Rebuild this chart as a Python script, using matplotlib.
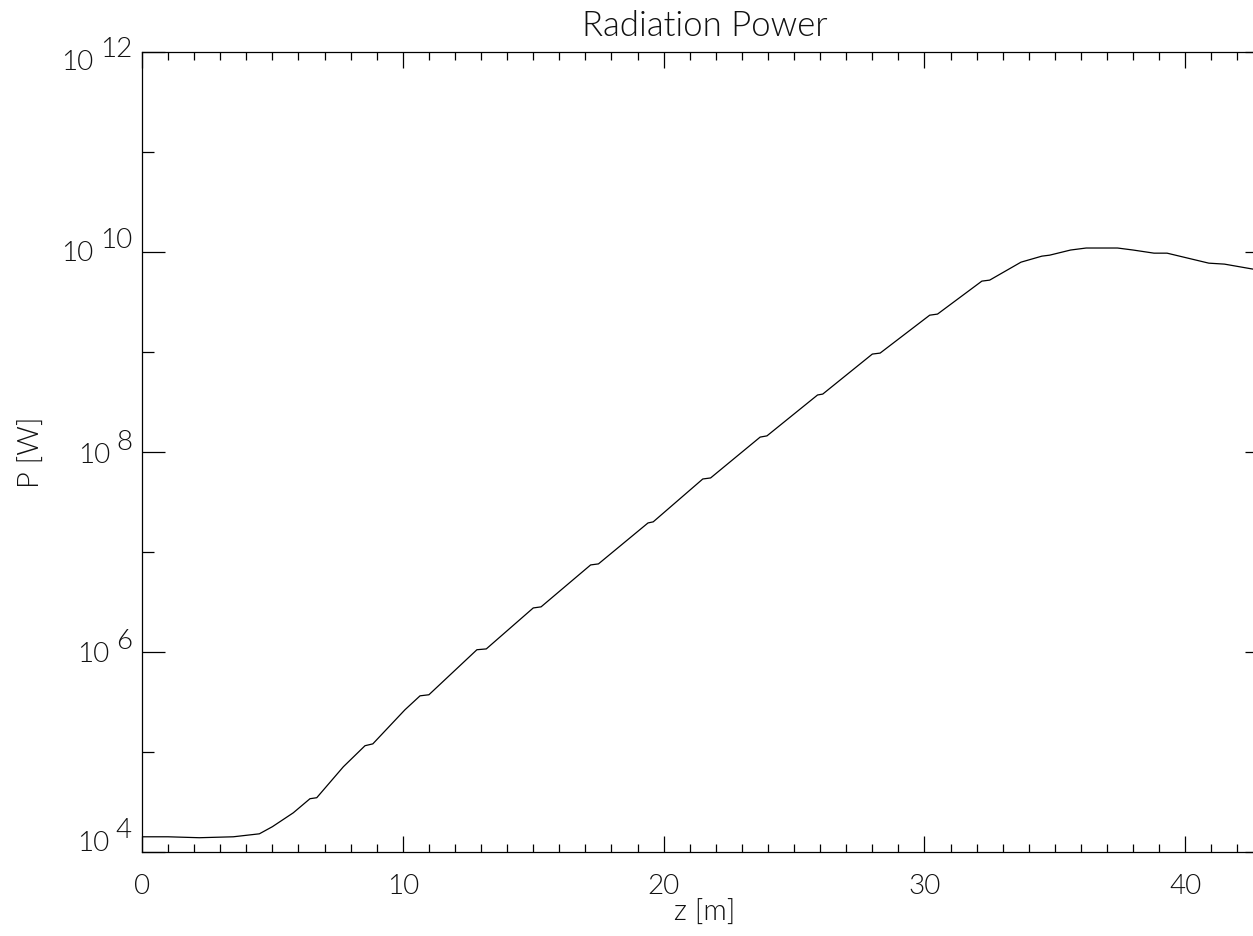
import matplotlib
matplotlib.use("Agg")
import matplotlib.pyplot as plt
from matplotlib.ticker import FixedLocator, MultipleLocator, NullFormatter
from matplotlib import font_manager

# ---- data ----
z_m = [0.0, 1.0, 2.2, 3.5, 4.5, 5.0, 5.8, 6.44, 6.7, 7.72, 8.55, 8.85,
       10.08, 10.66, 11.0, 12.84, 13.2, 15.0, 15.3, 17.2, 17.5, 19.4, 19.6,
       21.5, 21.8, 23.7, 23.96, 25.9, 26.1, 28.0, 28.3, 30.2, 30.5, 32.2,
       32.5, 33.7, 34.5, 34.8, 35.6, 36.2, 37.4, 38.0, 38.8, 39.3, 40.9,
       41.5, 42.6, 43.1]
power_W = [1.41e4, 1.41e4, 1.38e4, 1.41e4, 1.51e4, 1.78e4, 2.45e4, 3.39e4,
           3.47e4, 7.08e4, 1.15e5, 1.20e5, 2.63e5, 3.63e5, 3.72e5, 1.05e6,
           1.07e6, 2.75e6, 2.82e6, 7.41e6, 7.59e6, 1.95e7, 2.00e7, 5.37e7,
           5.50e7, 1.41e8, 1.45e8, 3.72e8, 3.80e8, 9.55e8, 9.77e8, 2.34e9,
           2.40e9, 5.13e9, 5.25e9, 7.94e9, 9.12e9, 9.33e9, 1.05e10, 1.10e10,
           1.10e10, 1.05e10, 9.77e9, 9.77e9, 7.76e9, 7.59e9, 6.76e9, 6.31e9]

y_major = [1e4, 1e6, 1e8, 1e10, 1e12]
y_minor = [1e5, 1e7, 1e9, 1e11]
y_exponents = ["4", "6", "8", "10", "12"]
x_ticks = [0, 10, 20, 30, 40]
x_tick_labels = ["0", "10", "20", "30", "40"]
title = "Radiation Power"
xlabel = "z [m]"
ylabel = "P [W]"

# ---- font ----
avail = {f.name for f in font_manager.fontManager.ttflist}
fam = "Lato" if "Lato" in avail else "DejaVu Sans"
plt.rcParams["font.family"] = [fam, "DejaVu Sans"]
plt.rcParams["font.weight"] = 300
plt.rcParams["axes.titleweight"] = 300
plt.rcParams["axes.labelweight"] = 300
tcol = "#111111"

W, H = 1253, 936
fig = plt.figure(figsize=(W / 100, H / 100), dpi=100)
x0, x1, ytop, ybot = 142, 1268, 52.3, 851.7
ax = fig.add_axes([x0 / W, 1 - ybot / H, (x1 - x0) / W, (ybot - ytop) / H])

ax.plot(z_m, power_W, color="black", lw=0.9)
ax.set_yscale("log")
ax.set_xlim(0, 43.17)
ax.set_ylim(1e4, 1e12)

for s in ax.spines.values():
    s.set_linewidth(0.9)

ax.xaxis.set_major_locator(FixedLocator(x_ticks))
ax.xaxis.set_minor_locator(MultipleLocator(1))
ax.set_xticklabels(x_tick_labels)
ax.yaxis.set_major_locator(FixedLocator(y_major))
ax.yaxis.set_minor_locator(FixedLocator(y_minor))
ax.yaxis.set_major_formatter(NullFormatter())
ax.yaxis.set_minor_formatter(NullFormatter())

ax.tick_params(axis="x", which="major", direction="in", length=11.5, width=0.9,
               top=True, bottom=True, labelsize=20, pad=16, labelcolor=tcol)
ax.tick_params(axis="x", which="minor", direction="in", length=5.8, width=0.9,
               top=True, bottom=True)
ax.tick_params(axis="y", which="major", direction="in", length=16.6, width=0.9,
               left=True, right=True)
ax.tick_params(axis="y", which="minor", direction="in", length=8.6, width=0.9,
               left=True, right=True)

# y tick labels "10" with full-size raised exponent
exp_offsets = [13.5, 3, 1.7, 4, -5]
for val, ex, off in zip(y_major, y_exponents, exp_offsets):
    e = ax.annotate(ex, xy=(0, val), xycoords=ax.get_yaxis_transform(),
                    xytext=(-10, off), textcoords="offset pixels",
                    ha="right", va="baseline", fontsize=20, color=tcol)
    ax.annotate("10", xy=(0, 0.5), xycoords=e, xytext=(-6, -13),
                textcoords="offset pixels", ha="right", va="center",
                fontsize=20, color=tcol)

ax.set_title(title, fontsize=25, pad=11.5, color=tcol)
ax.set_xlabel(xlabel, fontsize=21, color=tcol)
ax.set_ylabel(ylabel, fontsize=21, color=tcol)
ax.xaxis.set_label_coords(0.5, -0.06)
ax.yaxis.set_label_coords(-0.086, 0.5)

fig.savefig("out.png", dpi=100)
